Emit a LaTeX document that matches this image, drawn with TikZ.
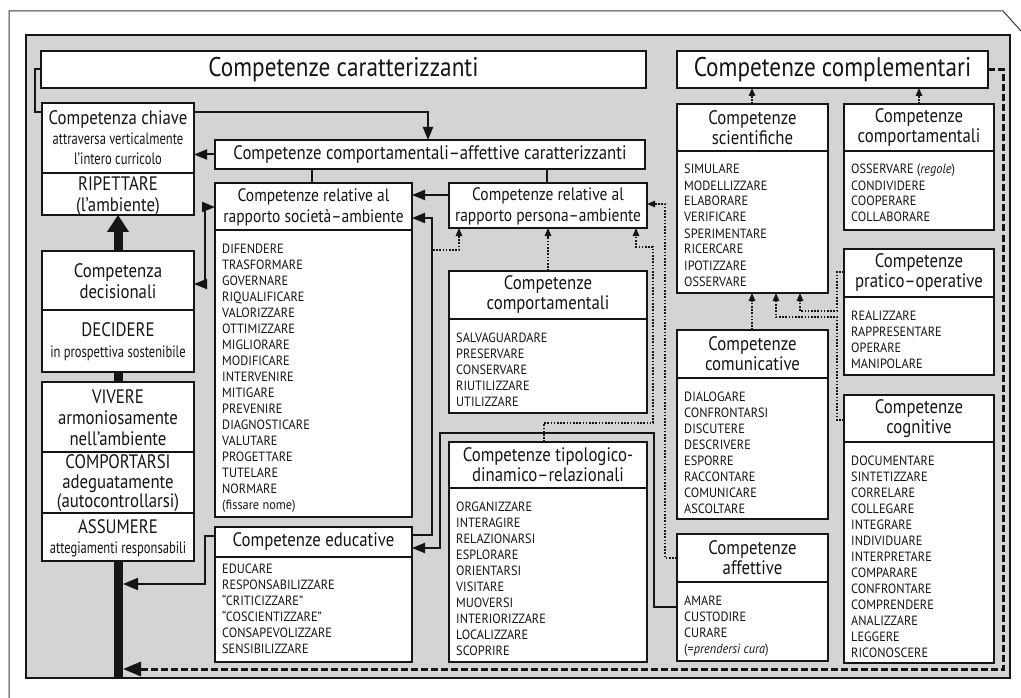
\documentclass[tikz,border=0pt]{standalone}
\usepackage{fontspec}
\setmainfont{PT Sans}
\newfontfamily\hf[FakeStretch=0.86]{PT Sans}
\newfontfamily\nf[FakeStretch=0.76]{PT Sans}
\newfontfamily\lf[FakeStretch=0.92]{PT Sans}
\usetikzlibrary{arrows.meta,fit}
\definecolor{panelgray}{RGB}{212,212,212}
\definecolor{ink}{RGB}{22,20,20}
\newcommand\mylist[4]{%
  \foreach \w [count=\i from 0] in {#4} {\node[li] (#1-\i) at (#2,#3+16*\i) {\w};}}
\begin{document}
\begin{tikzpicture}[x=1pt,y=-1pt,
  box/.style={draw=ink, line width=1.6pt, fill=white, inner sep=0pt, outer sep=0pt},
  panel/.style={draw=ink, line width=1.5pt, fill=panelgray, inner sep=0pt, outer sep=0pt},
  hd/.style={font=\hf\fontsize{19.5}{20}\selectfont, align=center, text=ink, inner sep=0pt},
  lh/.style={font=\hf\fontsize{19.5}{21}\selectfont, align=center, text=ink, inner sep=0pt},
  ttl/.style={font=\hf\fontsize{27}{28}\selectfont, align=center, text=ink, inner sep=0pt},
  li/.style={font=\lf\fontsize{13.4}{16}\selectfont, anchor=base west, text=ink, inner sep=0pt},
  dv/.style={draw=ink, line width=1.6pt},
  ln/.style={draw=ink, line width=2pt},
  bar/.style={draw=ink, line width=9pt},
  >={Triangle[length=13pt,width=10pt]},
  dt/.style={draw=ink, line width=1.3pt, dash pattern=on 1.6pt off 1.6pt, -{Triangle[length=8pt,width=6.5pt]}},
  dsh/.style={draw=ink, line width=3pt, dash pattern=on 7pt off 3pt, -{Triangle[length=18pt,width=14pt]}},
  frame/.style={draw=ink!85, line width=1pt}
]
\useasboundingbox (0,0) rectangle (1021,698);
% outer page frame
\draw[frame] (9,698) -- (9,11) -- (1003,11) -- (1021,31);
% grey panel
\node[panel, fit={(26,35) (1010,678)}] (panel) {};

% connector running behind the key box
\node[box, fit={(41,51) (646,88)}] (cara) {};
\draw[ln] (cara.west) -| (35,112) -- (42,112);

% boxes
\node[box, fit={(677,51) (988,88)}] (compl) {};
\node[box, fit={(42,103) (194,215)}] (chiave) {};
\node[box, fit={(42,251) (194,372)}] (decis) {};
\node[box, fit={(42,382) (194,561)}] (vivere) {};
\node[box, fit={(215,140) (645,169)}] (caf) {};
\node[box, fit={(215,183) (412,517)}] (soc) {};
\node[box, fit={(449,183) (647,228)}] (pers) {};
\node[box, fit={(449,271) (647,413)}] (cmid) {};
\node[box, fit={(449,442) (647,662)}] (tipo) {};
\node[box, fit={(215,527) (412,662)}] (educ) {};
\node[box, fit={(677,104) (828,293)}] (sci) {};
\node[box, fit={(844,104) (994,230)}] (cright) {};
\node[box, fit={(844,249) (994,375)}] (prat) {};
\node[box, fit={(844,395) (994,663)}] (cogn) {};
\node[box, fit={(677,330) (828,519)}] (comun) {};
\node[box, fit={(677,534) (828,661)}] (affe) {};

% dividers
\draw[dv] (chiave.west |- 0,173) -- (chiave.east |- 0,173);
\draw[dv] (decis.west |- 0,310) -- (decis.east |- 0,310);
\draw[dv] (vivere.west |- 0,452) -- (vivere.east |- 0,452);
\draw[dv] (vivere.west |- 0,513) -- (vivere.east |- 0,513);
\draw[dv] (soc.west |- 0,230) -- (soc.east |- 0,230);
\draw[dv] (cmid.west |- 0,319) -- (cmid.east |- 0,319);
\draw[dv] (tipo.west |- 0,488) -- (tipo.east |- 0,488);
\draw[dv] (educ.west |- 0,557) -- (educ.east |- 0,557);
\draw[dv] (sci.west |- 0,151) -- (sci.east |- 0,151);
\draw[dv] (cright.west |- 0,151) -- (cright.east |- 0,151);
\draw[dv] (prat.west |- 0,297) -- (prat.east |- 0,297);
\draw[dv] (cogn.west |- 0,442) -- (cogn.east |- 0,442);
\draw[dv] (comun.west |- 0,378) -- (comun.east |- 0,378);
\draw[dv] (affe.west |- 0,582) -- (affe.east |- 0,582);

% titles
\node[ttl] (cara-t) at (cara.center) {Competenze caratterizzanti};
\node[ttl] (compl-t) at (compl.center) {Competenze complementari};

% left column texts
\node[lh, font=\hf\fontsize{19.5}{20}\selectfont] (chiave-t) at (118,138) {Competenza chiave\\{\nf\fontsize{16.5}{20}\selectfont attraversa verticalmente}\\{\nf\fontsize{16.5}{20}\selectfont l’intero curricolo}};
\node[lh] (chiave-b) at (118,196) {RIPETTARE\\(l’ambiente)};
\node[lh] (decis-t) at (118,281) {Competenza\\decisionali};
\node[lh] (decis-b) at (118,342) {DECIDERE\\{\nf\fontsize{16.5}{21}\selectfont in prospettiva sostenibile}};
\node[lh] (viv-a) at (118,418) {VIVERE\\armoniosamente\\nell’ambiente};
\node[lh, font=\hf\fontsize{19.5}{19.5}\selectfont] (viv-b) at (118,483.5) {COMPORTARSI\\adeguatamente\\(autocontrollarsi)};
\node[lh, font=\hf\fontsize{19.5}{20}\selectfont] (viv-c) at (118,538) {ASSUMERE\\{\nf\fontsize{16.5}{20}\selectfont attegiamenti responsabili}};

% headers
\node[hd] (caf-t) at (caf.center) {Competenze comportamentali–affettive caratterizzanti};
\node[hd, font=\hf\fontsize{18}{21}\selectfont] (soc-t) at (313.5,207) {Competenze relative al\\rapporto società–ambiente};
\node[hd, font=\hf\fontsize{18}{21}\selectfont] (pers-t) at (548,206) {Competenze relative al\\rapporto persona–ambiente};
\node[hd] (cmid-t) at (548,295) {Competenze\\comportamentali};
\node[hd] (tipo-t) at (548,465) {Competenze tipologico-\\dinamico–relazionali};
\node[hd] (educ-t) at (313.5,542) {Competenze educative};
\node[hd] (sci-t) at (752.5,127.5) {Competenze\\scientifiche};
\node[hd] (cright-t) at (919,127.5) {Competenze\\comportamentali};
\node[hd] (prat-t) at (919,273) {Competenze\\pratico–operative};
\node[hd] (cogn-t) at (919,418.5) {Competenze\\cognitive};
\node[hd] (comun-t) at (752.5,354) {Competenze\\comunicative};
\node[hd] (affe-t) at (752.5,558) {Competenze\\affettive};

% lists
\mylist{socl}{222}{253.5}{DIFENDERE,TRASFORMARE,GOVERNARE,RIQUALIFICARE,VALORIZZARE,OTTIMIZZARE,MIGLIORARE,MODIFICARE,INTERVENIRE,MITIGARE,PREVENIRE,DIAGNOSTICARE,VALUTARE,PROGETTARE,TUTELARE,NORMARE,(fissare nome)}
\mylist{cmidl}{456}{342}{SALVAGUARDARE,PRESERVARE,CONSERVARE,RIUTILIZZARE,UTILIZZARE}
\mylist{tipol}{456}{511}{ORGANIZZARE,INTERAGIRE,RELAZIONARSI,ESPLORARE,ORIENTARSI,VISITARE,MUOVERSI,INTERIORIZZARE,LOCALIZZARE,SCOPRIRE}
\mylist{educl}{222}{573}{EDUCARE,RESPONSABILIZZARE,“CRITICIZZARE”,“COSCIENTIZZARE”,CONSAPEVOLIZZARE,SENSIBILIZZARE}
\mylist{scil}{684}{174}{SIMULARE,MODELLIZZARE,ELABORARE,VERIFICARE,SPERIMENTARE,RICERCARE,IPOTIZZARE,OSSERVARE}
\mylist{crightl}{851}{174}{{OSSERVARE (\textit{regole})},CONDIVIDERE,COOPERARE,COLLABORARE}
\mylist{pratl}{851}{320}{REALIZZARE,RAPPRESENTARE,OPERARE,MANIPOLARE}
\mylist{cognl}{851}{465}{DOCUMENTARE,SINTETIZZARE,CORRELARE,COLLEGARE,INTEGRARE,INDIVIDUARE,INTERPRETARE,COMPARARE,CONFRONTARE,COMPRENDERE,ANALIZZARE,LEGGERE,RICONOSCERE}
\mylist{comunl}{684}{401}{DIALOGARE,CONFRONTARSI,DISCUTERE,DESCRIVERE,ESPORRE,RACCONTARE,COMUNICARE,ASCOLTARE}
\mylist{affel}{684}{605}{AMARE,CUSTODIRE,CURARE,{(=\textit{prendersi cura})}}

% thick vertical spine
\coordinate (spineA) at (123,584);
\coordinate (spineB) at (123,669);
\draw[bar, -{Triangle[length=17pt,width=21pt]}] (decis.north) -- (chiave.south);
\draw[bar] (decis.south) -- (vivere.north);
\draw[bar] (vivere.south) -- (vivere.south |- panel.south);

% solid connectors
\draw[ln, ->] (chiave.east |- 0,112) -| (caf.north -| 428,0);
\draw[ln, ->] (caf.west) -- (chiave.east |- caf.west);
\draw[ln] (caf.south -| 312,0) -- (soc.north -| 312,0);
\draw[ln] (caf.south -| 547,0) -- (pers.north -| 547,0);
\draw[ln, ->] (pers.west |- 0,195) -- (soc.east |- 0,195);
\draw[ln, <->] (decis.east |- 0,284) -| (205,207) -- (soc.west |- 0,207);
\draw[ln, ->] (educ.east |- 0,535) -| (432,218) -- (soc.east |- 0,218);
\draw[ln, ->] (affe.west |- 0,607) -| (654,433) -| (440,548) -- (educ.east |- 0,548);
\draw[ln, -{Triangle[length=15pt,width=12pt]}] (educ.west |- 0,536) -| (205,584) -- (spineA);

% dotted connectors
\coordinate (d1) at (433,250);
\draw[dt] (d1) -| (pers.south -| 459,0);
\draw[dt] (cmid.north) -- (pers.south);
\draw[dt] (tipo.north -| 544,0) -- (544,423) -| (653,247) -| (pers.south -| 636,0);
\draw[dt] (affe.west |- 0,558) -| (665,204) -- (pers.east |- 0,204);
\draw[dt] (sci.north -| 752,0) -- (compl.south -| 752,0);
\draw[dt] (cright.north -| 919,0) -- (compl.south -| 919,0);
\draw[dt] (comun.north -| 752,0) -- (sci.south -| 752,0);
\draw[dt] (cogn.west |- 0,420) -| (837,317) -| (sci.south -| 776,0);
\draw[dt] (prat.west |- 0,272) -| (837,311) -| (sci.south -| 800,0);

% dashed feedback
\draw[dsh] (compl.east) -| (1003,669) -- (spineB);
\end{tikzpicture}
\end{document}
